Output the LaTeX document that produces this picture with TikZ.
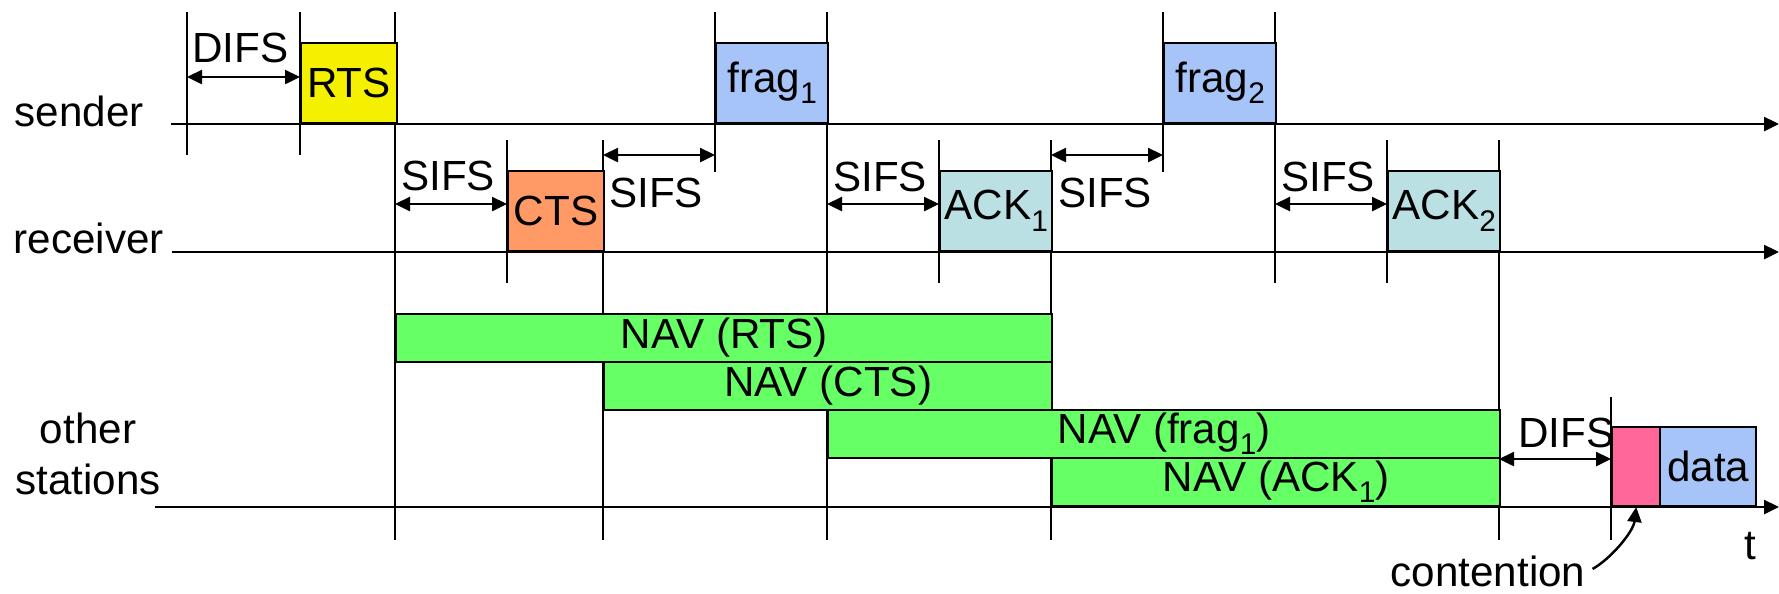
\documentclass[tikz,border=0pt]{standalone}
\usepackage{fontspec}
\setmainfont{Liberation Sans}
\usetikzlibrary{arrows.meta,positioning}
\definecolor{rtsyellow}{HTML}{F5F000}
\definecolor{ctsorange}{HTML}{FF9966}
\definecolor{fragblue}{HTML}{A6C4F7}
\definecolor{ackcyan}{HTML}{BAE0E4}
\definecolor{navgreen}{HTML}{66FF66}
\definecolor{contpink}{HTML}{FF6699}
\newcommand{\idx}[1]{\raisebox{-0.5ex}{\fontsize{8.5}{9}\selectfont #1}}

\begin{document}
\begin{tikzpicture}[x=0.1mm,y=-0.1mm,font=\fontsize{12}{14.5}\selectfont,line width=0.7pt,
frame/.style={draw,inner sep=0pt,minimum width=11.2mm,minimum height=8mm,anchor=south west},
short/.style={minimum width=9.55mm},
navbar/.style={draw,fill=navgreen,inner sep=0pt,minimum height=4.8mm,anchor=south west},
span/.style={{Triangle[length=1.5mm,width=1.4mm]}-{Triangle[length=1.5mm,width=1.4mm]}},
axis/.style={-{Triangle[length=1.5mm,width=1.4mm]}},
lbl/.style={inner sep=0pt,anchor=base west}]
\useasboundingbox (0,0) rectangle (1779,593);
% time lines
\coordinate (s0) at (171,124);\coordinate (s1) at (1779,124);
\coordinate (r0) at (172,252);\coordinate (r1) at (1779,252);
\coordinate (o0) at (155,507);\coordinate (o1) at (1779,507);
\node[anchor=base east,inner sep=0pt] (sender) at (145,126) {sender};
\node[anchor=base east,inner sep=0pt] (receiver) at (165,253) {receiver};
\node[align=center,inner sep=0pt,anchor=base] (other) at (88,494) {other\\stations};
% ticks
\draw (187,12)--(187,155);\draw (300,12)--(300,155);
\draw (395,12)--(395,540);
\draw (507,140)--(507,283);\draw (603,140)--(603,540);
\draw (715,12)--(715,172);\draw (827,12)--(827,540);
\draw (939,140)--(939,283);\draw (1051,140)--(1051,540);
\draw (1163,12)--(1163,172);\draw (1275,12)--(1275,283);
\draw (1387,140)--(1387,283);\draw (1499,140)--(1499,540);
\draw (1611,397)--(1611,540);
% frames
\node[frame,short,fill=rtsyellow] (rts) at (300,124) {RTS};
\node[frame,short,fill=ctsorange] (cts) at (507,252) {CTS};
\node[frame,fill=fragblue] (frag1) at (715,124) {frag\idx{1}};
\node[frame,fill=ackcyan] (ack1) at (939,252) {ACK\idx{1}};
\node[frame,fill=fragblue] (frag2) at (1163,124) {frag\idx{2}};
\node[frame,fill=ackcyan] (ack2) at (1387,252) {ACK\idx{2}};
\node[navbar,minimum width=65.6mm] (navrts) at (395,363) {NAV (RTS)};
\node[navbar,minimum width=44.8mm] (navcts) at (603,411) {NAV (CTS)};
\node[navbar,minimum width=67.2mm] (navfrag) at (827,459) {NAV (frag\idx{1})};
\node[navbar,minimum width=44.8mm] (navack) at (1051,507) {NAV (ACK\idx{1})};
\node[frame,minimum width=4.8mm,minimum height=7.9mm,fill=contpink] (cont) at (1611,507) {};
\node[frame,minimum width=9.6mm,minimum height=7.9mm,fill=fragblue] (data) at (1659,507) {data};
\draw[axis] (s0)--(s1);
\draw[axis] (r0)--(r1);
\draw[axis] (o0)--(o1);
% interframe spaces
\coordinate (difs0) at (187,77);
\draw[span] (difs0)--(rts.west|-difs0);
\node[lbl] (difs) at (191,62) {DIFS};
\coordinate (sifs0) at (395,204);
\draw[span] (sifs0)--(cts.west|-sifs0);
\node[lbl] (sifsa) at (400,190) {SIFS};
\coordinate (sifs1) at (603,155);
\draw[span] (sifs1)--(frag1.west|-sifs1);
\node[lbl] (sifsb) at (608,207) {SIFS};
\coordinate (sifs2) at (827,204);
\draw[span] (sifs2)--(ack1.west|-sifs2);
\node[lbl] (sifsc) at (832,191) {SIFS};
\coordinate (sifs3) at (1051,155);
\draw[span] (sifs3)--(frag2.west|-sifs3);
\node[lbl] (sifsd) at (1057,207) {SIFS};
\coordinate (sifs4) at (1275,204);
\draw[span] (sifs4)--(ack2.west|-sifs4);
\node[lbl] (sifse) at (1280,191) {SIFS};
\coordinate (difs1) at (1499,459);
\draw[span] (difs1)--(cont.west|-difs1);
\node[lbl] (difsb) at (1517,447) {DIFS};
% time axis, contention
\node[anchor=base,inner sep=0pt] (t) at (1750,559) {t};
\node[anchor=base,inner sep=0pt] (contlbl) at (1488,586) {contention};
\draw[axis] (contlbl.east)+(6,-2) .. controls +(18,-10) and +(-3,25) .. (cont.south);
\end{tikzpicture}
\end{document}
